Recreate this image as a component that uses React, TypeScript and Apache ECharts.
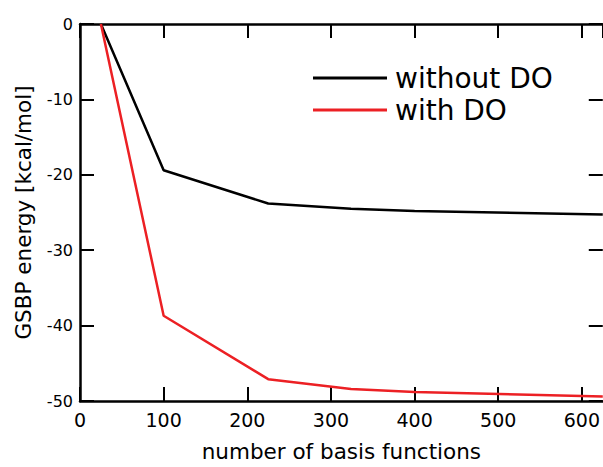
import React, { useEffect, useRef } from "react";
import * as echarts from "echarts";

const basisCounts = [25, 100, 225, 324, 400, 625];
const withoutDO = [0, -19.4, -23.8, -24.5, -24.8, -25.25];
const withDO = [0, -38.7, -47.1, -48.4, -48.8, -49.4];
const seriesNames = ["without DO", "with DO"];
const seriesColors = ["#000000", "#ec2024"];

const FONT = "DejaVu Sans";

function axisLine(show = true) {
  return { show, onZero: false, lineStyle: { color: "#000", width: 2.5 } };
}
function axisTick() {
  return { show: true, inside: true, length: 14, lineStyle: { color: "#000", width: 2 } };
}

export default function App() {
  const ref = useRef<HTMLDivElement>(null);
  useEffect(() => {
    if (!ref.current) return;
    const chart = echarts.init(ref.current, null, { renderer: "svg" });
    chart.setOption({
      animation: false,
      backgroundColor: "#ffffff",
      grid: { left: 80, top: 24, width: 525, height: 383.5, containLabel: false },
      legend: {
        orient: "vertical",
        left: 308,
        top: 58,
        itemWidth: 74,
        itemHeight: 3,
        itemGap: 2,
        icon: "rect",
        textStyle: { fontFamily: FONT, fontSize: 28, color: "#000", lineHeight: 30, padding: [0, 0, 0, 3] },
        data: seriesNames,
      },
      xAxis: [
        {
          type: "value",
          min: 0,
          max: 625,
          interval: 100,
          position: "bottom",
          splitLine: { show: false },
          axisLine: axisLine(),
          axisTick: axisTick(),
          name: "number of basis functions",
          nameLocation: "middle",
          nameGap: 39,
          nameTextStyle: { fontFamily: FONT, fontSize: 21.5, color: "#000" },
          axisLabel: {
            show: true,
            inside: false,
            margin: 9,
            fontFamily: FONT,
            fontSize: 19,
            color: "#000",
            showMaxLabel: false,
            formatter: (v: number) => (v % 100 === 0 ? String(v) : ""),
          },
        },
        {
          type: "value",
          min: 0,
          max: 625,
          interval: 100,
          position: "top",
          splitLine: { show: false },
          axisLine: axisLine(),
          axisTick: axisTick(),
          axisLabel: { show: false },
        },
      ],
      yAxis: [
        {
          type: "value",
          min: -50,
          max: 0,
          interval: 10,
          position: "left",
          splitLine: { show: false },
          axisLine: axisLine(),
          axisTick: axisTick(),
          name: "GSBP energy [kcal/mol]",
          nameLocation: "middle",
          nameGap: 46,
          nameTextStyle: { fontFamily: FONT, fontSize: 21.5, color: "#000" },
          axisLabel: { show: true, inside: false, margin: 7, fontFamily: FONT, fontSize: 16, color: "#000" },
        },
        {
          type: "value",
          min: -50,
          max: 0,
          interval: 10,
          position: "right",
          splitLine: { show: false },
          axisLine: axisLine(false),
          axisTick: axisTick(),
          axisLabel: { show: false },
        },
      ],
      series: [
        {
          name: seriesNames[0],
          type: "line",
          xAxisIndex: 0,
          yAxisIndex: 0,
          showSymbol: false,
          data: basisCounts.map((x, i) => [x, withoutDO[i]]),
          lineStyle: { color: seriesColors[0], width: 2.5 },
          itemStyle: { color: seriesColors[0] },
        },
        {
          name: seriesNames[1],
          type: "line",
          xAxisIndex: 0,
          yAxisIndex: 0,
          showSymbol: false,
          data: basisCounts.map((x, i) => [x, withDO[i]]),
          lineStyle: { color: seriesColors[1], width: 2.5 },
          itemStyle: { color: seriesColors[1] },
        },
      ],
    });
    return () => chart.dispose();
  }, []);
  return <div ref={ref} style={{ position: "fixed", left: 0, top: 0, width: 603, height: 467 }} />;
}
